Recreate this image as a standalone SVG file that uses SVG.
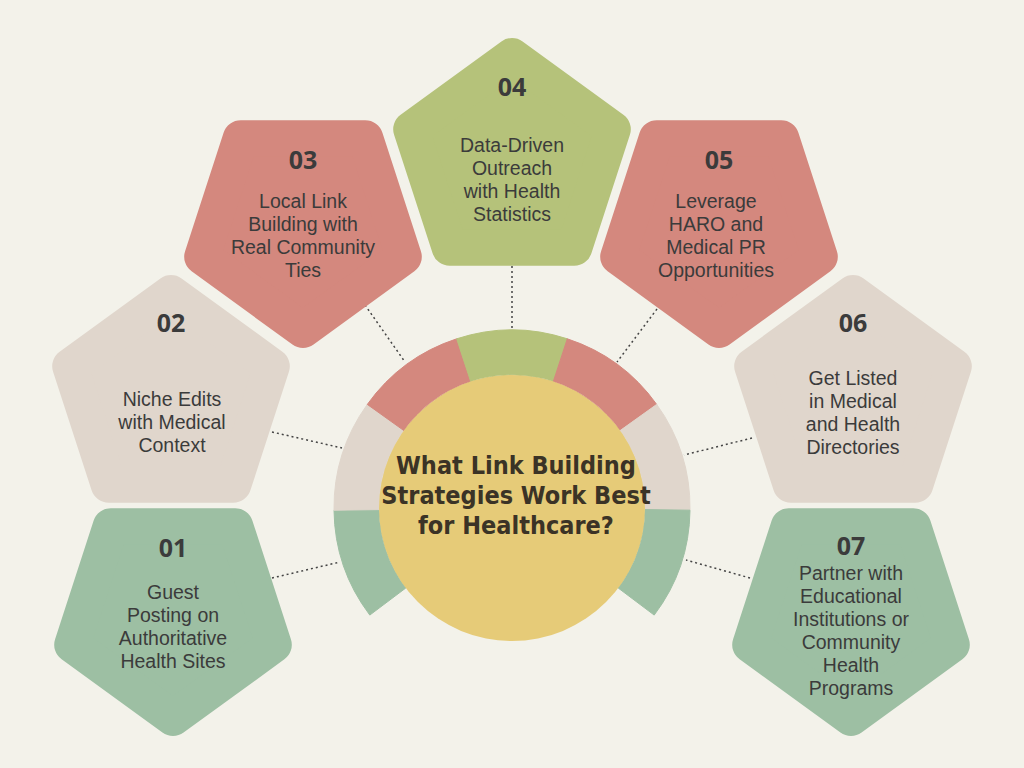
<svg xmlns="http://www.w3.org/2000/svg" width="1024" height="768" viewBox="0 0 1024 768">
<style>
.num{font-family:"Open Sans","DejaVu Sans",sans-serif;font-weight:bold;font-size:25px;fill:#3b3b3b;text-anchor:middle}
.lbl{font-family:"Liberation Sans",Arial,sans-serif;font-size:19.5px;fill:#3b3b3b;text-anchor:middle}
.ttl{font-family:"DejaVu Sans Condensed","DejaVu Sans",sans-serif;font-weight:bold;font-size:25px;fill:#3b3326;text-anchor:middle;font-stretch:condensed}
.con{stroke:#444;stroke-width:1.5;stroke-dasharray:2 3;fill:none}
.g{fill:#9dbfa3;stroke:#9dbfa3}.b{fill:#e0d6cc;stroke:#e0d6cc}.r{fill:#d4887e;stroke:#d4887e}.o{fill:#b5c27a;stroke:#b5c27a}
.p{stroke-width:36;stroke-linejoin:round}
</style>
<defs>
<polygon id="up" points="0,-106 100.8,-32.8 62.3,85.8 -62.3,85.8 -100.8,-32.8"/>
<polygon id="dn" points="0,106 100.8,32.8 62.3,-85.8 -62.3,-85.8 -100.8,32.8"/>
</defs>
<rect width="1024" height="768" fill="#f3f2ea"/>
<g id="connectors">
<line class="con" x1="512" y1="266" x2="512" y2="330"/>
<line class="con" x1="365" y1="305" x2="405" y2="362"/>
<line class="con" x1="660" y1="305" x2="617" y2="362"/>
<line class="con" x1="272" y1="432" x2="342" y2="448"/>
<line class="con" x1="752" y1="438" x2="684" y2="455"/>
<line class="con" x1="272" y1="578" x2="340" y2="562"/>
<line class="con" x1="750" y1="578" x2="686" y2="560"/>
</g>
<g id="ring">
<path class="g" d="M369.8,615.1 A178,178 0 0 1 334,510.2 L379,509.6 A133,133 0 0 0 405.8,588 Z"/>
<path class="b" d="M334,510.2 A178,178 0 0 1 367.3,404.4 L403.9,430.6 A133,133 0 0 0 379,509.6 Z"/>
<path class="r" d="M367.3,404.4 A178,178 0 0 1 456.7,338.8 L470.7,381.6 A133,133 0 0 0 403.9,430.6 Z"/>
<path class="o" d="M456.7,338.8 A178,178 0 0 1 567.3,338.8 L553.3,381.6 A133,133 0 0 0 470.7,381.6 Z"/>
<path class="r" d="M567.3,338.8 A178,178 0 0 1 656.7,404.4 L620.1,430.6 A133,133 0 0 0 553.3,381.6 Z"/>
<path class="b" d="M656.7,404.4 A178,178 0 0 1 690,510.2 L645,509.6 A133,133 0 0 0 620.1,430.6 Z"/>
<path class="g" d="M690,510.2 A178,178 0 0 1 654.2,615.1 L618.2,588 A133,133 0 0 0 645,509.6 Z"/>
</g>
<g id="center">
<circle cx="512" cy="508" r="133" fill="#e6cb78"/>
<text class="ttl" x="516" y="474">What Link Building</text>
<text class="ttl" x="516" y="504">Strategies Work Best</text>
<text class="ttl" x="516" y="534">for Healthcare?</text>
</g>
<g id="n04"><use href="#up" x="512" y="162" class="o p"/>
<text class="num" x="512" y="96">04</text>
<text class="lbl" x="512" y="152">Data-Driven</text><text class="lbl" x="512" y="175">Outreach</text><text class="lbl" x="512" y="198">with Health</text><text class="lbl" x="512" y="221">Statistics</text></g>
<g id="n03"><use href="#dn" x="303" y="224" class="r p"/>
<text class="num" x="303" y="169">03</text>
<text class="lbl" x="303" y="208">Local Link</text><text class="lbl" x="303" y="231">Building with</text><text class="lbl" x="303" y="254">Real Community</text><text class="lbl" x="303" y="277">Ties</text></g>
<g id="n05"><use href="#dn" x="719" y="224" class="r p"/>
<text class="num" x="719" y="169">05</text>
<text class="lbl" x="716" y="208">Leverage</text><text class="lbl" x="716" y="231">HARO and</text><text class="lbl" x="716" y="254">Medical PR</text><text class="lbl" x="716" y="277">Opportunities</text></g>
<g id="n02"><use href="#up" x="171" y="399" class="b p"/>
<text class="num" x="171" y="332">02</text>
<text class="lbl" x="172" y="406">Niche Edits</text><text class="lbl" x="172" y="429">with Medical</text><text class="lbl" x="172" y="452">Context</text></g>
<g id="n06"><use href="#up" x="853" y="399" class="b p"/>
<text class="num" x="853" y="332">06</text>
<text class="lbl" x="853" y="385">Get Listed</text><text class="lbl" x="853" y="408">in Medical</text><text class="lbl" x="853" y="431">and Health</text><text class="lbl" x="853" y="454">Directories</text></g>
<g id="n01"><use href="#dn" x="173" y="612" class="g p"/>
<text class="num" x="173" y="557">01</text>
<text class="lbl" x="173" y="599">Guest</text><text class="lbl" x="173" y="622">Posting on</text><text class="lbl" x="173" y="645">Authoritative</text><text class="lbl" x="173" y="668">Health Sites</text></g>
<g id="n07"><use href="#dn" x="851" y="612" class="g p"/>
<text class="num" x="851" y="555">07</text>
<text class="lbl" x="851" y="580">Partner with</text><text class="lbl" x="851" y="603">Educational</text><text class="lbl" x="851" y="626">Institutions or</text><text class="lbl" x="851" y="649">Community</text><text class="lbl" x="851" y="672">Health</text><text class="lbl" x="851" y="695">Programs</text></g>
</svg>
